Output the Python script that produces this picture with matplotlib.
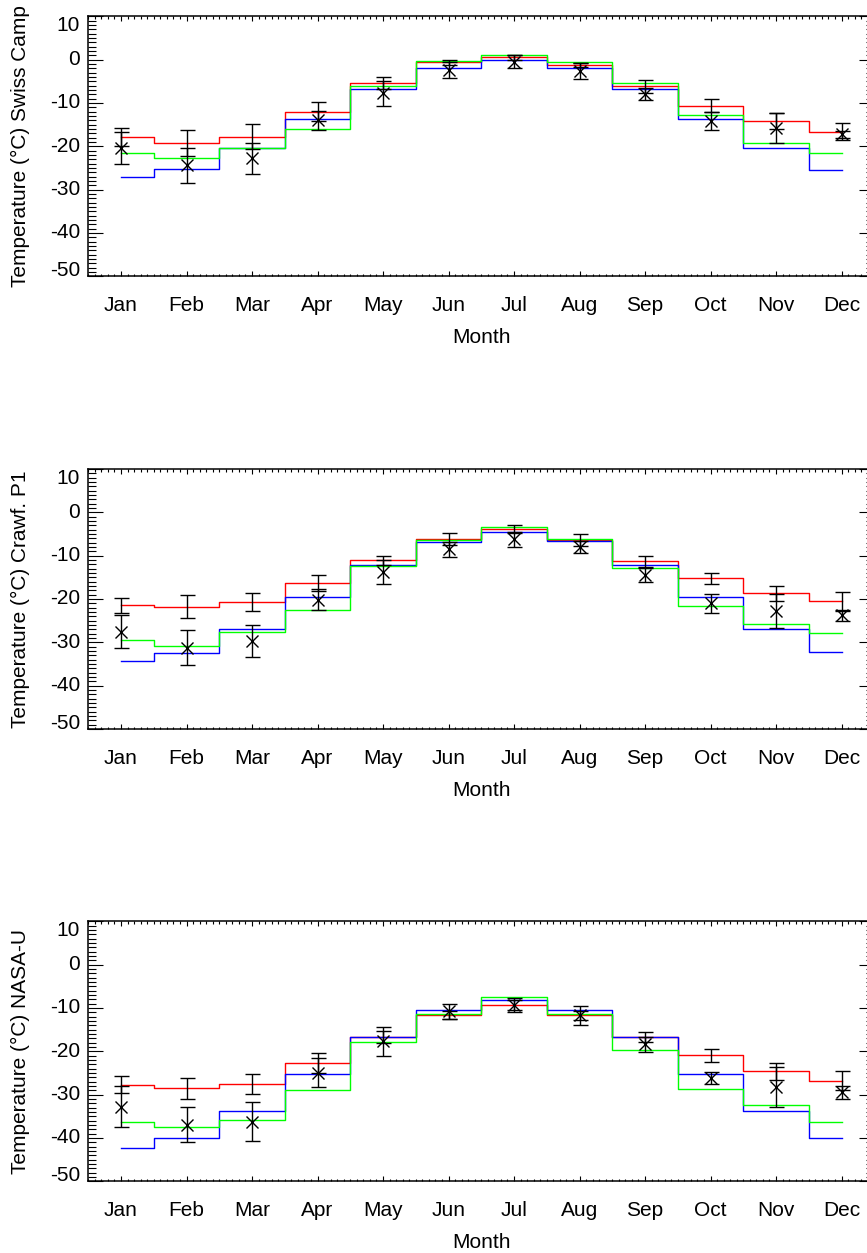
import numpy as np
import matplotlib
matplotlib.use('Agg')
import matplotlib.pyplot as plt
from matplotlib.ticker import MultipleLocator

plt.rcParams['font.family'] = ['Liberation Sans', 'DejaVu Sans']

months = ['Jan', 'Feb', 'Mar', 'Apr', 'May', 'Jun', 'Jul', 'Aug', 'Sep', 'Oct', 'Nov', 'Dec']

# Swiss Camp
swiss_red = [-17.8, -19.2, -17.8, -12.0, -5.3, -0.6, 0.5, -1.2, -6.2, -10.6, -14.2, -16.6]
swiss_green = [-21.5, -22.6, -20.3, -15.9, -6.2, -0.4, 1.1, -0.5, -5.5, -12.7, -19.2, -21.5]
swiss_blue = [-27.2, -25.3, -20.3, -13.6, -6.8, -2.0, -0.2, -1.9, -6.8, -13.6, -20.4, -25.4]
swiss_obs = [-20.4, -24.4, -22.8, -14.0, -7.8, -2.4, -0.5, -2.6, -8.0, -14.2, -15.8, -17.2]
swiss_obs_err = [3.65, 4.0, 3.65, 2.2, 2.8, 1.85, 1.5, 1.8, 1.4, 2.1, 3.5, 0.8]
swiss_red_err = [2.1, 3.0, 2.9, 2.2, 1.4, 0.55, 0.5, 0.5, 1.5, 1.5, 1.85, 2.0]

# Crawford Point 1
crawf_red = [-21.5, -21.8, -20.7, -16.3, -11.1, -6.2, -3.9, -6.4, -11.3, -15.2, -18.7, -20.5]
crawf_green = [-29.5, -30.8, -27.7, -22.6, -12.5, -6.5, -3.3, -6.1, -12.9, -21.6, -25.8, -27.9]
crawf_blue = [-34.2, -32.4, -27.0, -19.5, -12.1, -6.8, -4.5, -6.7, -12.2, -19.5, -26.9, -32.3]
crawf_obs = [-27.6, -31.2, -29.8, -20.2, -13.8, -8.5, -6.2, -8.1, -14.5, -21.0, -22.7, -23.8]
crawf_obs_err = [3.8, 4.1, 3.7, 2.4, 2.8, 1.7, 1.7, 1.4, 1.6, 2.2, 3.9, 1.2]
crawf_red_err = [1.8, 2.7, 2.1, 1.9, 1.1, 1.4, 0.9, 1.3, 1.3, 1.3, 1.8, 2.2]

# NASA-U
nasa_red = [-27.7, -28.5, -27.5, -22.7, -16.7, -11.7, -9.3, -11.7, -16.7, -20.9, -24.6, -26.8]
nasa_green = [-36.4, -37.5, -35.8, -29.0, -17.9, -11.3, -7.4, -11.5, -19.8, -28.8, -32.5, -36.2]
nasa_blue = [-42.3, -40.1, -33.8, -25.2, -16.8, -10.5, -8.2, -10.5, -16.8, -25.3, -33.8, -40.1]
nasa_obs = [-32.8, -36.9, -36.2, -24.9, -17.7, -10.8, -9.3, -11.7, -18.4, -26.2, -28.3, -29.5]
nasa_obs_err = [4.7, 4.0, 4.4, 3.4, 3.3, 1.65, 1.7, 2.15, 1.65, 1.4, 4.6, 1.6]
nasa_red_err = [1.9, 2.4, 2.3, 2.2, 1.3, 0.9, 1.15, 1.1, 1.15, 1.5, 2.0, 2.2]

stations = [
    ('Swiss Camp', swiss_red, swiss_green, swiss_blue, swiss_obs, swiss_obs_err, swiss_red_err),
    ('Crawf. P1', crawf_red, crawf_green, crawf_blue, crawf_obs, crawf_obs_err, crawf_red_err),
    ('NASA-U', nasa_red, nasa_green, nasa_blue, nasa_obs, nasa_obs_err, nasa_red_err),
]

W, H = 867, 1253
fig = plt.figure(figsize=(W / 100, H / 100), dpi=100)

x = np.arange(1, 13)
tops = [16.3, 469.0, 921.3]
yticks = [10, 0, -10, -20, -30, -40, -50]
fs = 15

for top, (name, red, green, blue, obs, obs_err, red_err) in zip(tops, stations):
    ax = fig.add_axes([88.25 / W, 1 - (top + 260) / H, 786 / W, 260 / H])
    ax.plot(x, red, drawstyle='steps-mid', color='#ff0000', lw=1.0)
    ax.plot(x, blue, drawstyle='steps-mid', color='#0000ff', lw=1.0)
    ax.plot(x, green, drawstyle='steps-mid', color='#00ff00', lw=1.0)
    ax.errorbar(x, red, yerr=red_err, fmt='none', ecolor='black', elinewidth=1.0,
                capsize=5.4, capthick=1.0)
    ax.errorbar(x, obs, yerr=obs_err, fmt='x', color='black', ms=9, mew=1.0,
                ecolor='black', elinewidth=1.0, capsize=5.4, capthick=1.0)

    ax.set_xlim(0.5, 12.5)
    ax.set_ylim(-50, 10)
    ax.set_xticks(x)
    ax.set_xticklabels(months)
    ax.set_yticks(yticks)
    ax.set_yticklabels([str(t) for t in yticks])
    ax.xaxis.set_minor_locator(MultipleLocator(0.1))
    ax.yaxis.set_minor_locator(MultipleLocator(1))
    ax.tick_params(axis='x', which='both', direction='in', top=True, labelsize=fs,
                   pad=14.5, width=0.8)
    ax.tick_params(axis='x', which='major', length=3.6)
    ax.tick_params(axis='x', which='minor', length=1.8)
    ax.tick_params(axis='y', which='both', direction='in', right=True, labelsize=fs,
                   pad=6, width=0.8)
    ax.tick_params(axis='y', which='major', length=10.8)
    ax.tick_params(axis='y', which='minor', length=5.5)
    for sp in ax.spines.values():
        sp.set_linewidth(1.1)

    labels = ax.get_yticklabels()
    labels[0].set_verticalalignment('top')
    labels[-1].set_verticalalignment('baseline')
    for lab in labels[1:-1]:
        lab.set_verticalalignment('center')

    ax.set_xlabel('Month', fontsize=fs)
    ax.xaxis.set_label_coords(0.5, -0.20)
    ax.set_ylabel('Temperature (\u00b0C) ' + name, fontsize=fs)
    ax.yaxis.set_label_coords(-0.0738, 0.5)

plt.savefig('out.png', dpi=100)
